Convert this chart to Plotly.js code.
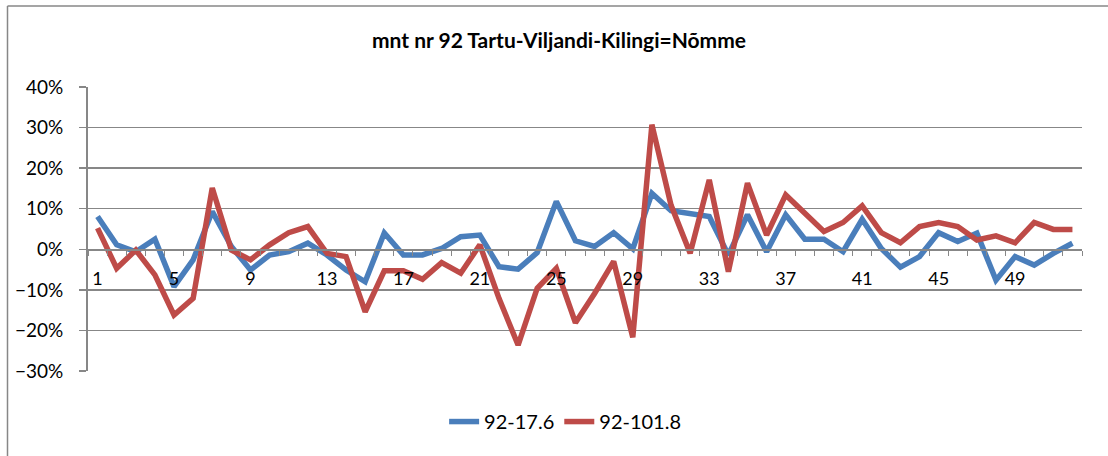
<!DOCTYPE html>
<html>
<head>
<meta charset="utf-8">
<script src="https://cdn.plot.ly/plotly-3.0.1.min.js"></script>
<style>html,body{margin:0;padding:0;background:#fff;}#chart{width:1108px;height:456px;}</style>
</head>
<body>
<div id="chart"></div>
<script>
const categories = Array.from({length: 52}, (_, i) => i + 1);
const tickLabels = [1, 5, 9, 13, 17, 21, 25, 29, 33, 37, 41, 45, 49];
const seriesNames = ["92-17.6", "92-101.8"];
const blueValues = [8.1, 1.1, -0.6, 2.5, -9.2, -2.6, 9.3, 0.7, -5.1, -1.4,
  -0.6, 1.5, -1.4, -5.1, -8.0, 4.0, -1.4, -1.4, 0.2, 3.1,
  3.5, -4.3, -4.9, -0.8, 11.8, 2.1, 0.7, 4.1, 0.1, 13.8,
  9.5, 8.9, 8.1, -1.4, 8.5, -0.6, 8.5, 2.5, 2.5, -0.6,
  7.4, 0.2, -4.4, -1.8, 4.1, 1.9, 4.0, -7.6, -1.8, -3.9,
  -1.0, 1.5];
const redValues = [5.2, -4.7, -0.2, -6.3, -16.2, -12.1, 15.1, -0.2, -2.6, 1.1,
  4.1, 5.6, -1.0, -1.8, -15.4, -5.3, -5.3, -7.4, -3.3, -5.9,
  1.1, -12.1, -23.6, -9.6, -4.7, -18.1, -10.9, -3.0, -21.7, 30.7,
  10.9, -1.0, 17.1, -5.5, 16.3, 3.5, 13.4, 8.9, 4.4, 6.6,
  10.7, 4.1, 1.6, 5.6, 6.6, 5.6, 2.3, 3.3, 1.6, 6.6,
  4.9, 4.9];
const titleText = "mnt nr 92 Tartu-Viljandi-Kilingi=Nõmme";

const FONT = "Lato, 'Liberation Sans', sans-serif";
const GRID = "#878787";

const traces = [
  {x: categories, y: blueValues, name: seriesNames[0], type: "scatter", mode: "lines",
   line: {color: "#4A7EBB", width: 5.5}},
  {x: categories, y: redValues, name: seriesNames[1], type: "scatter", mode: "lines",
   line: {color: "#BE4B48", width: 5.5}}
];

const layout = {
  width: 1108, height: 456,
  margin: {l: 88, r: 26, t: 87, b: 85},
  paper_bgcolor: "#ffffff", plot_bgcolor: "#ffffff",
  font: {family: FONT, color: "#000"},
  title: {text: "<b>" + titleText + "</b>", font: {family: FONT, size: 21, color: "#000"},
          x: 0.5045, xref: "container", xanchor: "center", y: 0.91, yref: "container", yanchor: "middle"},
  showlegend: true,
  legend: {orientation: "h", x: 0.48, xanchor: "center", y: -0.178, yanchor: "middle",
           font: {family: FONT, size: 20, color: "#000"}, bgcolor: "rgba(0,0,0,0)"},
  xaxis: {
    range: [0.5, 52.5], anchor: "free", position: 30 / 70,
    tickmode: "array", tickvals: tickLabels, ticktext: tickLabels.map(String),
    ticks: "", showgrid: false, zeroline: false,
    showline: true, linecolor: GRID, linewidth: 1.5,
    tickfont: {family: FONT, size: 18, color: "#000"},
    ticklabelstandoff: 13,
    minor: {tickmode: "linear", tick0: 0.5, dtick: 1, ticks: "outside", ticklen: 5,
            tickcolor: GRID, tickwidth: 1, showgrid: false}
  },
  yaxis: {
    range: [-30, 40], tickmode: "linear", tick0: -30, dtick: 10, ticksuffix: "%",
    showgrid: true, gridcolor: GRID, gridwidth: 1.5, zeroline: false,
    showline: true, linecolor: GRID, linewidth: 2,
    ticks: "outside", ticklen: 7, tickcolor: GRID, tickwidth: 1.5,
    tickfont: {family: FONT, size: 19, color: "#000"},
    ticklabelstandoff: 12
  },
  shapes: [
    {type: "line", xref: "paper", yref: "paper", x0: (7.5 - 88) / 994, x1: (7.5 - 88) / 994,
     y0: (371 - 6) / 284, y1: (371 - 470) / 284, line: {color: GRID, width: 1.5}},
    {type: "line", xref: "paper", yref: "paper", x0: (7.5 - 88) / 994, x1: (1120 - 88) / 994,
     y0: (371 - 6) / 284, y1: (371 - 6) / 284, line: {color: GRID, width: 1.5}}
  ]
};

Plotly.newPlot("chart", traces, layout, {displayModeBar: false, staticPlot: true});
</script>
</body>
</html>
